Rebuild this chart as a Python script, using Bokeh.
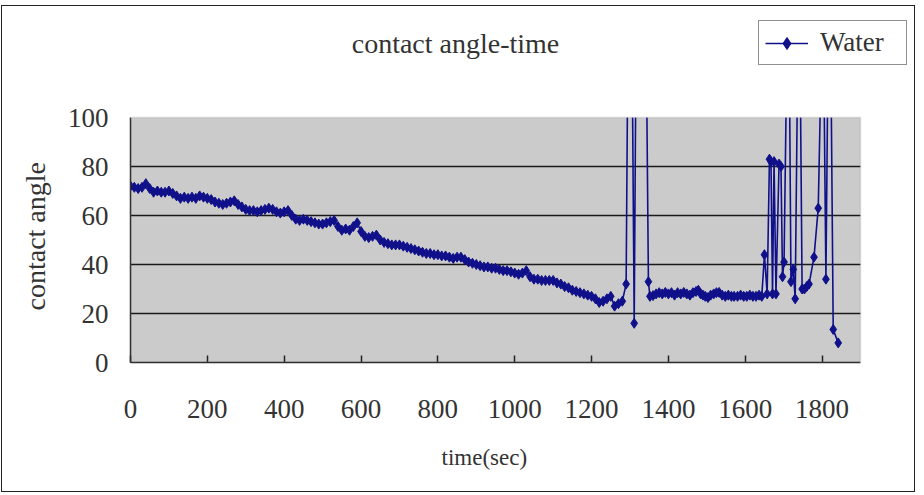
from bokeh.plotting import figure
from bokeh.models import (FixedTicker, Legend, LegendItem, Label, BoxAnnotation,
                          ColumnDataSource, Title)
from bokeh.embed import file_html
from bokeh.resources import INLINE

# ---- data ----
# steady decline phase (every 10 s)
decline_time = list(range(0, 1290, 10))
decline_angle = [
    72, 71.5, 71, 71.5, 73, 71, 69.5, 70, 69.5, 69.5,
    70, 69, 68, 67, 67.5, 67, 67.5, 67, 68, 67.5,
    67, 66.5, 65.5, 65, 64.5, 65, 65.5, 66, 64.5, 63.5,
    62.5, 62, 62, 61.5, 62, 62.5, 63, 62.5, 61.5, 61,
    61.5, 62, 60, 58.5, 58, 58.5, 58, 57.5, 57, 56.5,
    56.5, 57, 57.5, 58, 55.5, 54, 54.5, 54, 55.5, 57,
    53.5, 51.5, 51, 51.5, 52, 50, 49, 48.5, 48, 48,
    48, 47.5, 47, 46.5, 46, 45.5, 45, 44.5, 44.5, 44,
    44, 43.5, 43.5, 43, 42.5, 43, 43, 42, 41, 40.5,
    40, 39.5, 39, 39, 38.5, 38.5, 38, 37.5, 37.5, 37,
    36.5, 36, 36.5, 37.5, 35, 34, 34, 33.5, 33.5, 33.5,
    33.5, 32.5, 32, 31, 30.5, 29.5, 29, 28.5, 28, 27.5,
    27, 26, 24.5, 25, 26, 27, 23, 24, 25,
]
# first unstable burst (values above 100 are off the scale)
burst1_time = [1290, 1295, 1300, 1305, 1311, 1316, 1325, 1335, 1343, 1348]
burst1_angle = [32, 140, 130, 140, 16, 135, 140, 130, 120, 33]
# plateau
plateau_time = [1352, 1360, 1368, 1376, 1384, 1392, 1400, 1408, 1416, 1424, 1432,
                1440, 1448, 1456, 1464, 1472, 1478, 1484, 1490, 1496, 1503, 1510,
                1518, 1525, 1532, 1540, 1548, 1556, 1564, 1571, 1580, 1588, 1596,
                1604, 1612, 1620, 1628, 1636, 1643]
plateau_angle = [27, 27.3, 28, 28.5, 28, 28.6, 28, 28.5, 27.5, 28.5, 28,
                 28.6, 28, 27.5, 28.5, 29, 29.5, 28, 27.5, 27, 26.5, 27.5,
                 28, 28.5, 28.6, 27.5, 27, 27.5, 27, 27, 27, 27.5, 27,
                 27, 27.5, 27, 27, 27.5, 27]
# second unstable burst
burst2_time = [1650, 1657, 1663, 1667, 1671, 1675, 1680, 1688, 1693, 1697,
               1701, 1709, 1714, 1719, 1725, 1730, 1737, 1742, 1748, 1754, 1760,
               1766, 1779, 1790, 1800, 1804, 1810, 1816, 1822, 1829, 1842]
burst2_angle = [44, 28, 83, 82, 28, 82, 28, 81, 80, 35,
                41, 135, 140, 33, 38, 26, 130, 140, 30, 30, 31,
                32, 43, 63, 140, 130, 34, 135, 140, 13.5, 8]

time_sec = decline_time + burst1_time + plateau_time + burst2_time
contact_angle = decline_angle + burst1_angle + plateau_angle + burst2_angle

x_ticks = [0, 200, 400, 600, 800, 1000, 1200, 1400, 1600, 1800]
y_ticks = [0, 20, 40, 60, 80, 100]
grid_values = [20, 40, 60, 80]
x_axis_max = 1900
y_axis_max = 100

title_text = "contact angle-time"
x_label = "time(sec)"
y_label = "contact angle"
series_name = "Water"

# ---- layout (pixels) ----
CANVAS_W, CANVAS_H = 914, 487
AREA_W, AREA_H = 730, 245          # grey plot area size
LEFT, BOTTOM = 128, 131            # canvas margins around plot area
FRAME_W = CANVAS_W - LEFT
FRAME_H = CANVAS_H - BOTTOM

x_end = x_axis_max * FRAME_W / AREA_W
y_end = y_axis_max * FRAME_H / AREA_H

# ---- styling ----
FONT = "Liberation Serif"
NAVY = "#10108a"
TEXT = "#333333"

src = ColumnDataSource(dict(t=time_sec, a=contact_angle))

p = figure(width=CANVAS_W, height=CANVAS_H, x_range=(0, x_end), y_range=(0, y_end),
           output_backend="svg", toolbar_location=None,
           min_border_left=LEFT, min_border_right=0,
           min_border_top=0, min_border_bottom=BOTTOM)
p.margin = (5, 0, 0, 1)
p.styles = {"border": "1px solid #222222"}

p.background_fill_color = "white"
p.border_fill_color = "white"
p.outline_line_color = None

# grey plot area
p.add_layout(BoxAnnotation(left=0, right=x_axis_max, bottom=0, top=y_axis_max,
                           fill_color="#cbcbcb", fill_alpha=1, line_color=None,
                           level="image"))

p.xgrid.visible = False
p.ygrid.ticker = FixedTicker(ticks=grid_values)
p.ygrid.grid_line_color = "#1a1a1a"
p.ygrid.grid_line_width = 1.5
p.ygrid.level = "underlay"

for ax in (p.xaxis[0], p.yaxis[0]):
    ax.axis_line_color = "#222222"
    ax.axis_line_width = 1.5
    ax.major_label_text_font = FONT
    ax.major_label_text_font_size = "27px"
    ax.major_label_text_color = TEXT
    ax.minor_tick_line_color = None

p.xaxis.ticker = FixedTicker(ticks=x_ticks)
p.xaxis.bounds = (0, x_axis_max)
p.xaxis.major_tick_in = 7
p.xaxis.major_tick_out = 0
p.xaxis.major_tick_line_color = "#222222"
p.xaxis.major_tick_line_width = 1.5
p.xaxis.major_label_standoff = 37

p.yaxis.ticker = FixedTicker(ticks=y_ticks)
p.yaxis.bounds = (0, y_axis_max)
p.yaxis.major_tick_in = 0
p.yaxis.major_tick_out = 0
p.yaxis.major_label_standoff = 22

# axis titles as side-panel titles (so they can be positioned along the plot area)
p.add_layout(Title(text=y_label, align="left", offset=52, standoff=28,
                   text_font=FONT, text_font_size="28px", text_font_style="normal",
                   text_color=TEXT), "left")
p.add_layout(Title(text=x_label, align="left", offset=311, standoff=45,
                   text_font=FONT, text_font_size="23px", text_font_style="normal",
                   text_color=TEXT), "below")

ln = p.line("t", "a", source=src, line_color=NAVY, line_width=1.6)
sc = p.scatter("t", "a", source=src, marker="diamond", size=10,
               fill_color=NAVY, line_color=NAVY)

# hide grid lines right of the plot area
p.add_layout(BoxAnnotation(left=x_axis_max, fill_color="white", fill_alpha=1,
                           line_color=None, level="guide"))
# hide everything above the plot area (values off the scale)
p.add_layout(BoxAnnotation(bottom=y_axis_max, fill_color="white", fill_alpha=1,
                           line_color=None, level="overlay"))
# plot-area outline (top / right)
p.add_layout(BoxAnnotation(left=0, right=x_axis_max, bottom=0, top=y_axis_max,
                           fill_alpha=0, line_color="#8c8c8c", line_width=1.5,
                           level="overlay"))

p.add_layout(Label(x=x_axis_max * 325 / AREA_W, y=y_axis_max * 319 / AREA_H,
                   text=title_text, text_align="center", text_baseline="middle",
                   text_font=FONT, text_font_size="28px", text_color=TEXT,
                   level="overlay"))

legend = Legend(items=[LegendItem(label=series_name, renderers=[ln, sc])],
                location=(628, 297), orientation="vertical",
                border_line_color="#222222", border_line_width=1.5,
                background_fill_color="white", background_fill_alpha=1,
                padding=6, margin=0, spacing=0, glyph_width=43,
                glyph_height=30, label_width=80, label_height=30,
                label_standoff=12, label_text_font=FONT,
                label_text_font_size="27px", label_text_color=TEXT,
                level="overlay")
p.add_layout(legend, "center")

open("out.html", "w").write(file_html(p, INLINE))
